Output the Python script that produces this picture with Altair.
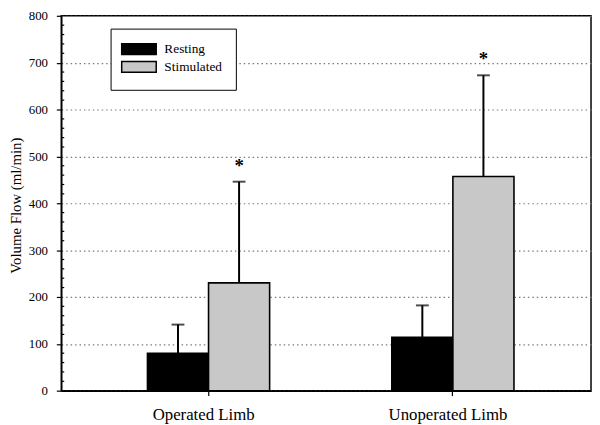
import altair as alt
import pandas as pd

groups = ["Operated Limb", "Unoperated Limb"]
conditions = ["Resting", "Stimulated"]
means_operated = [80, 230]
means_unoperated = [114, 457]
sd_operated = [61, 216]
sd_unoperated = [68, 216]
significant_operated = ["", "*"]
significant_unoperated = ["", "*"]
y_ticks = [0, 100, 200, 300, 400, 500, 600, 700, 800]
minor_ticks = [v for v in range(20, 800, 20) if v % 100 != 0]

rows = []
for g, ms, sds, sig in [
    (groups[0], means_operated, sd_operated, significant_operated),
    (groups[1], means_unoperated, sd_unoperated, significant_unoperated),
]:
    for c, m, s, st in zip(conditions, ms, sds, sig):
        rows.append({"group": g, "condition": c, "mean": m, "upper": m + s, "star": st})
df = pd.DataFrame(rows)
minor_df = pd.DataFrame({"v": minor_ticks})

FONT = "Liberation Serif"
NBSP = "\u00a0"

x_enc = alt.X(
    "group:N",
    sort=groups,
    scale=alt.Scale(paddingInner=0.5, paddingOuter=0.334, align=0.528),
    axis=alt.Axis(
        title=None, labelAngle=0, labelFont=FONT, labelFontSize=17, labelColor="black",
        tickSize=5, tickColor="black", tickWidth=1.2, domainColor="black", domainWidth=1.5,
        labelPadding=11, labelOffset=-5, grid=False,
    ),
)
xoff_enc = alt.XOffset("condition:N", sort=conditions, scale=alt.Scale(paddingInner=0, paddingOuter=0))
y_scale = alt.Scale(domain=[0, 800], nice=False)

base = alt.Chart(df)

bars = base.mark_bar(stroke="black", strokeWidth=1.6).encode(
    x=x_enc,
    xOffset=xoff_enc,
    y=alt.Y(
        "mean:Q",
        scale=y_scale,
        axis=alt.Axis(
            values=y_ticks, title="Volume Flow (ml/min)", titleFont=FONT, titleFontSize=15,
            titleFontWeight="normal", titleColor="black", titleAngle=270, titleX=-53, titleY=192,
            titleBaseline="top", titleAlign="center",
            labelFont=FONT, labelFontSize=13, labelColor="black", labelPadding=9,
            tickSize=5, tickColor="black", tickWidth=1.2, domainColor="black", domainWidth=1.5,
            grid=True, gridColor="#7a7a7a", gridDash=[1.5, 3], gridWidth=1.2,
        ),
    ),
    fill=alt.Fill(
        "condition:N",
        sort=conditions,
        scale=alt.Scale(domain=conditions, range=["black", "#c8c8c8"]),
        legend=alt.Legend(
            title=None, orient="none", legendX=50, legendY=13, strokeColor="black",
            fillColor="white", padding=14, rowPadding=0,
            symbolType="M-1.727,-1H4.636V1H-1.727Z", symbolSize=121,
            symbolStrokeColor="black", symbolStrokeWidth=1.5, symbolOpacity=1,
            labelFont=FONT, labelFontSize=13.5, labelColor="black", labelOffset=27,
            labelExpr="datum.label + '" + NBSP + NBSP + "'",
        ),
    ),
)

err = base.mark_rule(color="black", strokeWidth=2).encode(
    x=alt.X("group:N", sort=groups),
    xOffset=alt.XOffset("condition:N", sort=conditions),
    y=alt.Y("mean:Q", scale=y_scale),
    y2="upper:Q",
)

caps = base.mark_tick(color="black", thickness=2, size=13, orient="horizontal").encode(
    x=alt.X("group:N", sort=groups),
    xOffset=alt.XOffset("condition:N", sort=conditions),
    y=alt.Y("upper:Q", scale=y_scale),
)

stars = base.mark_text(
    font=FONT, fontSize=19, fontWeight="bold", color="black", baseline="alphabetic", dy=-10
).encode(
    x=alt.X("group:N", sort=groups),
    xOffset=alt.XOffset("condition:N", sort=conditions),
    y=alt.Y("upper:Q", scale=y_scale),
    text="star:N",
)

minor = alt.Chart(minor_df).mark_rule(color="black", strokeWidth=1.2).encode(
    y=alt.Y("v:Q", scale=y_scale),
    x=alt.value(0),
    x2=alt.value(3),
)

chart = (
    alt.layer(bars, err, caps, stars, minor)
    .properties(
        width=537,
        height=380,
        autosize=alt.AutoSizeParams(type="none"),
        padding={"left": 54, "top": 5, "right": 1, "bottom": 40},
    )
    .configure_view(stroke="black", strokeWidth=1.5)
)

chart.save("out.html", embed_options={"renderer": "svg", "actions": False})
